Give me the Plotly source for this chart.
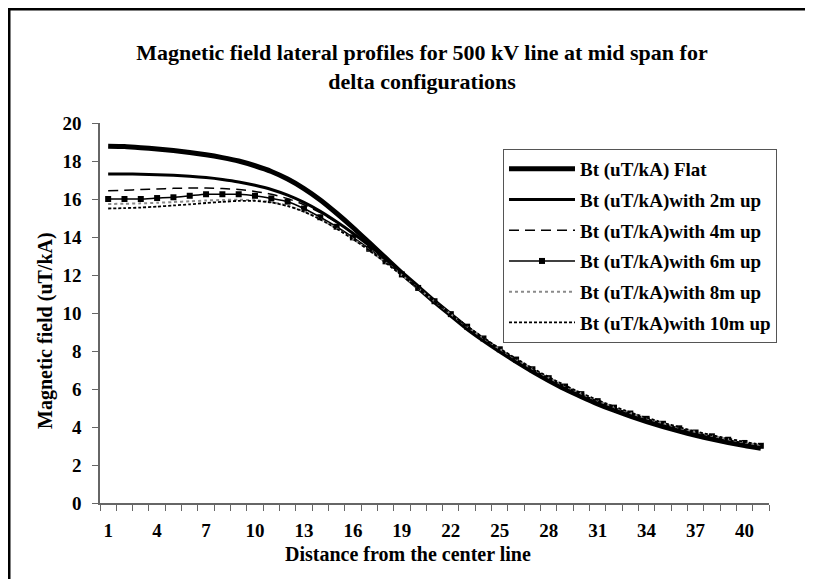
import plotly.graph_objects as go

distance = list(range(1, 42))

bt_flat = [18.78, 18.76, 18.70, 18.63, 18.55, 18.45, 18.33, 18.18, 18.00, 17.75,
           17.45, 17.05, 16.55, 15.95, 15.25, 14.50, 13.70, 12.90, 12.10, 11.35,
           10.60, 9.90, 9.20, 8.58, 8.00, 7.45, 6.93, 6.45, 6.00, 5.60,
           5.22, 4.88, 4.57, 4.28, 4.02, 3.78, 3.56, 3.36, 3.18, 3.02, 2.88]
bt_2m = [17.32, 17.32, 17.30, 17.28, 17.25, 17.20, 17.13, 17.03, 16.90, 16.72,
         16.50, 16.20, 15.82, 15.35, 14.80, 14.20, 13.55, 12.85, 12.10, 11.35,
         10.62, 9.92, 9.22, 8.60, 8.02, 7.47, 6.96, 6.48, 6.03, 5.63,
         5.26, 4.92, 4.61, 4.33, 4.07, 3.83, 3.61, 3.41, 3.23, 3.07, 2.93]
bt_4m = [16.44, 16.46, 16.50, 16.53, 16.56, 16.58, 16.58, 16.55, 16.50, 16.40,
         16.25, 16.02, 15.70, 15.28, 14.78, 14.20, 13.55, 12.85, 12.12, 11.38,
         10.65, 9.95, 9.27, 8.65, 8.07, 7.52, 7.01, 6.53, 6.09, 5.69,
         5.32, 4.98, 4.67, 4.39, 4.13, 3.89, 3.67, 3.47, 3.29, 3.12, 2.97]
bt_6m = [16.00, 16.00, 16.00, 16.05, 16.09, 16.17, 16.25, 16.25, 16.25, 16.17,
         16.03, 15.86, 15.50, 15.04, 14.54, 13.98, 13.38, 12.72, 12.03, 11.32,
         10.62, 9.94, 9.28, 8.66, 8.09, 7.55, 7.04, 6.57, 6.13, 5.73,
         5.36, 5.02, 4.71, 4.43, 4.17, 3.93, 3.71, 3.51, 3.33, 3.16, 3.01]
bt_8m = [15.74, 15.75, 15.77, 15.80, 15.84, 15.88, 15.92, 15.95, 15.96, 15.93,
         15.84, 15.65, 15.35, 14.94, 14.45, 13.90, 13.30, 12.66, 11.99, 11.30,
         10.61, 9.94, 9.29, 8.68, 8.11, 7.57, 7.07, 6.60, 6.16, 5.76,
         5.39, 5.05, 4.74, 4.46, 4.20, 3.96, 3.74, 3.54, 3.36, 3.19, 3.04]
bt_10m = [15.50, 15.52, 15.55, 15.60, 15.66, 15.72, 15.79, 15.85, 15.90, 15.90,
          15.82, 15.63, 15.33, 14.93, 14.44, 13.89, 13.29, 12.65, 11.98, 11.30,
          10.62, 9.95, 9.31, 8.70, 8.13, 7.60, 7.10, 6.63, 6.19, 5.79,
          5.42, 5.08, 4.77, 4.49, 4.23, 3.99, 3.77, 3.57, 3.39, 3.22, 3.07]

x_tick_vals = list(range(1, 42, 3))
y_tick_vals = list(range(0, 21, 2))

FONT = "Liberation Serif, Times New Roman, serif"

# page body has an 8px margin; figure drawn at screen offset (8, 8)
OFF = 8
W, H = 813 - OFF, 579 - OFF
# plot area in screen pixels
SL, SR, ST, SB = 100, 769, 123, 503

def px(x):
    return (x - SL) / (SR - SL)

def py(y):
    return (SB - y) / (SB - ST)

fig = go.Figure()

series = [
    ("Bt (uT/kA) Flat", bt_flat, dict(color="black", width=5), None),
    ("Bt (uT/kA)with 2m up", bt_2m, dict(color="black", width=3), None),
    ("Bt (uT/kA)with 4m up", bt_4m, dict(color="black", width=1.5, dash="10px,6px"), None),
    ("Bt (uT/kA)with 6m up", bt_6m, dict(color="black", width=1.5),
     dict(symbol="square", size=6, color="black")),
    ("Bt (uT/kA)with 8m up", bt_8m, dict(color="#8a8a8a", width=2, dash="dot"), None),
    ("Bt (uT/kA)with 10m up", bt_10m, dict(color="black", width=1.8, dash="3px,2px"), None),
]

for i, (name, vals, line, marker) in enumerate(series):
    fig.add_trace(go.Scatter(
        x=distance, y=vals, name=f"<b>{name}</b>",
        mode="lines+markers" if marker else "lines",
        line=dict(shape="spline", smoothing=0.6, **line),
        marker=marker, legendgroup=f"g{i}",
    ))

fig.update_layout(
    width=W, height=H,
    margin=dict(l=SL - OFF, r=W - (SR - OFF), t=ST - OFF, b=H - (SB - OFF), pad=0),
    paper_bgcolor="white", plot_bgcolor="white",
    font=dict(family=FONT, size=19, color="black"),
    title=dict(
        text="<b>Magnetic field lateral profiles for 500 kV line at mid span for<br>delta configurations</b>",
        x=px(422), xref="paper", xanchor="center",
        y=1 - (60 - OFF) / H, yref="container", yanchor="middle",
        font=dict(family=FONT, size=22, color="black"),
    ),
    showlegend=True,
    legend=dict(
        x=px(503), y=py(149), xanchor="left", yanchor="top",
        bgcolor="white", bordercolor="#555555", borderwidth=1,
        font=dict(family=FONT, size=19, color="black"),
        tracegroupgap=3, itemwidth=66,
    ),
    xaxis=dict(
        range=[0.5, 41.5], tickmode="array", tickvals=x_tick_vals,
        ticktext=[f"<b>{v}</b>" for v in x_tick_vals],
        ticks="outside", ticklen=0, showgrid=False, zeroline=False,
        showline=True, linecolor="#666666", linewidth=1.5,
        tickfont=dict(family=FONT, size=19, color="black"),
        ticklabelstandoff=9,
        minor=dict(ticks="outside", tick0=0.5, dtick=1, ticklen=6,
                   tickcolor="#666666", showgrid=False),
    ),
    yaxis=dict(
        range=[0, 20], tickmode="array", tickvals=y_tick_vals,
        ticktext=[f"<b>{v}</b>" for v in y_tick_vals],
        ticks="outside", ticklen=6, tickcolor="#666666",
        showgrid=False, zeroline=False,
        showline=True, linecolor="#666666", linewidth=1.5,
        tickfont=dict(family=FONT, size=19, color="black"),
        ticklabelstandoff=7,
    ),
    annotations=[
        dict(text="<b>Distance from the center line</b>", x=px(408), y=py(554),
             xref="paper", yref="paper", showarrow=False,
             font=dict(family=FONT, size=20, color="black"),
             xanchor="center", yanchor="middle"),
        dict(text="<b>Magnetic field (uT/kA)</b>", x=px(45), y=py(330),
             xref="paper", yref="paper", showarrow=False, textangle=-90,
             font=dict(family=FONT, size=20, color="black"),
             xanchor="center", yanchor="middle"),
    ],
    shapes=[
        dict(type="rect", xref="paper", yref="paper",
             x0=px(9), x1=px(818), y0=py(590), y1=py(9),
             line=dict(color="black", width=3), fillcolor="rgba(0,0,0,0)",
             layer="above"),
    ],
)

fig.write_html("out.html")
